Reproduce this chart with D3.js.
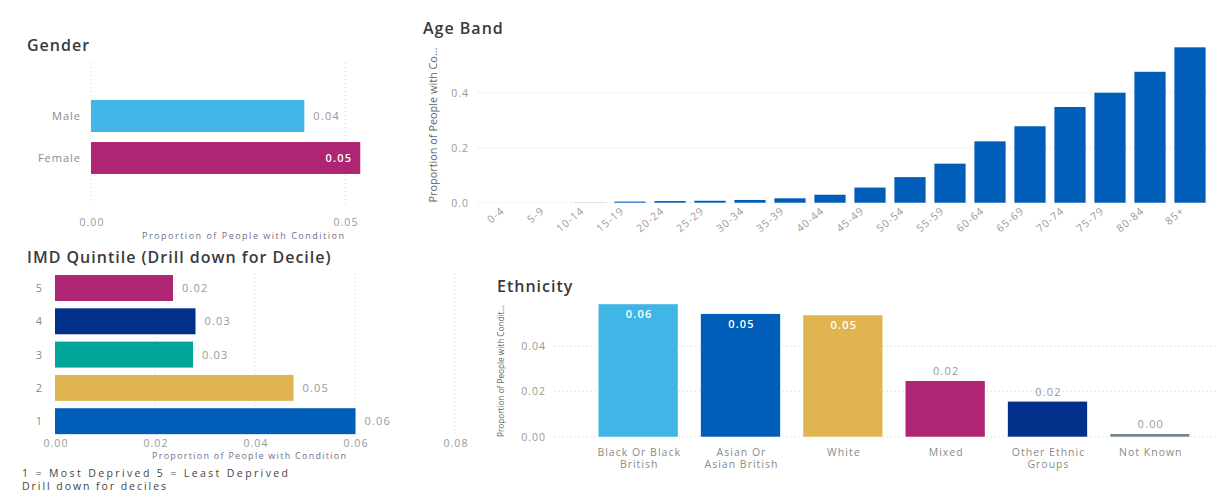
<!DOCTYPE html>
<html>
<head>
<meta charset="utf-8">
<script src="https://cdn.jsdelivr.net/npm/d3@7"></script>
<style>
  html, body { margin: 0; padding: 0; background: #fff; }
  svg { display: block; font-family: "Open Sans", "DejaVu Sans", sans-serif; }
  .title { fill: #3a3a3a; font-size: 16px; font-weight: 600; letter-spacing: 1px; }
  .tick-label { fill: #999; font-size: 10.5px; letter-spacing: 1px; }
  .cat-label { fill: #8a8a8a; font-size: 11px; letter-spacing: 1px; }
  .axis-title { fill: #6f6f88; font-size: 9px; }
  .val-out { fill: #999; font-size: 11px; letter-spacing: 1.2px; }
  .val-in { fill: #fff; font-size: 11px; font-weight: 600; letter-spacing: 1.2px; }
  .grid { stroke: #d6d6d6; stroke-width: 1; stroke-dasharray: 1 3; }
  .note { fill: #444; font-size: 10.5px; }
</style>
</head>
<body>
<svg id="chart" width="1230" height="501"></svg>
<script>
// ---- data ----
const genderCats = ["Male", "Female"];
const genderVals = [0.042, 0.053];
const genderTicks = [0, 0.05];

const ageCats = ["0-4", "5-9", "10-14", "15-19", "20-24", "25-29", "30-34", "35-39", "40-44",
  "45-49", "50-54", "55-59", "60-64", "65-69", "70-74", "75-79", "80-84", "85+"];
const ageVals = [0.0, 0.0, 0.0005, 0.004, 0.006, 0.007, 0.010, 0.016, 0.029,
  0.055, 0.093, 0.142, 0.223, 0.278, 0.348, 0.400, 0.476, 0.565];
const ageTicks = [0, 0.2, 0.4];

const imdCats = ["5", "4", "3", "2", "1"];
const imdVals = [0.0236, 0.0281, 0.0276, 0.0477, 0.0601];
const imdTicks = [0, 0.02, 0.04, 0.06, 0.08];

const ethCats = ["Black Or Black British", "Asian Or Asian British", "White", "Mixed",
  "Other Ethnic Groups", "Not Known"];
const ethLines = [["Black Or Black", "British"], ["Asian Or", "Asian British"], ["White"], ["Mixed"],
  ["Other Ethnic", "Groups"], ["Not Known"]];
const ethVals = [0.0585, 0.0542, 0.0536, 0.0246, 0.0155, 0.0012];
const ethTicks = [0, 0.02, 0.04];

// ---- palette ----
const cLight = "#41B6E6", cMagenta = "#AE2573", cNavy = "#00308A",
      cTeal = "#00A499", cGold = "#E0B54F", cBlue = "#005EB8", cGrey = "#768692";
const genderColors = [cLight, cMagenta];
const imdColors = [cMagenta, cNavy, cTeal, cGold, cBlue];
const ethColors = [cLight, cBlue, cGold, cMagenta, cNavy, cGrey];

const fmt = d3.format(".2f");
const svg = d3.select("#chart");

// ===== Gender (horizontal bars) =====
{
  const g = svg.append("g");
  const x = d3.scaleLinear().domain([0, 0.05]).range([91, 345]);
  const y = d3.scaleBand().domain(genderCats).range([95, 179]).paddingInner(0.24).paddingOuter(0.12);

  g.append("text").attr("class", "title").attr("x", 27).attr("y", 51).text("Gender");

  g.selectAll("line.gx").data(genderTicks).join("line").attr("class", "grid")
    .attr("x1", d => x(d)).attr("x2", d => x(d)).attr("y1", 63).attr("y2", 206);

  const rows = genderCats.map((c, i) => ({ c, v: genderVals[i], col: genderColors[i] }));
  g.selectAll("rect").data(rows).join("rect")
    .attr("x", x(0)).attr("y", d => y(d.c))
    .attr("width", d => x(d.v) - x(0)).attr("height", y.bandwidth())
    .attr("fill", d => d.col);

  g.selectAll("text.cat").data(genderCats).join("text").attr("class", "cat-label")
    .attr("x", 81).attr("y", d => y(d) + y.bandwidth() / 2 + 4)
    .attr("text-anchor", "end").text(d => d);

  g.selectAll("text.val").data(rows).join("text")
    .attr("class", d => x(d.v) > 350 ? "val-in" : "val-out")
    .attr("x", d => x(d.v) > 350 ? x(d.v) - 8 : x(d.v) + 9)
    .attr("text-anchor", d => x(d.v) > 350 ? "end" : "start")
    .attr("y", d => y(d.c) + y.bandwidth() / 2 + 4)
    .text(d => fmt(d.v));

  g.selectAll("text.tk").data(genderTicks).join("text").attr("class", "tick-label")
    .attr("x", d => x(d) + 1).attr("y", 226).attr("text-anchor", "middle").text(d => fmt(d));

  g.append("text").attr("class", "axis-title").attr("x", 243).attr("y", 239)
    .attr("text-anchor", "middle").attr("textLength", 202).attr("lengthAdjust", "spacing")
    .text("Proportion of People with Condition");
}

// ===== Age Band (vertical bars) =====
{
  const g = svg.append("g");
  const x = d3.scaleBand().domain(ageCats).range([490, 1210]).paddingInner(0.22).paddingOuter(0.11);
  const y = d3.scaleLinear().domain([0, 0.6]).range([202.7, 37.7]);

  g.append("text").attr("class", "title").attr("x", 423).attr("y", 34).text("Age Band");

  g.selectAll("line.gy").data(ageTicks).join("line").attr("class", "grid")
    .attr("x1", 478).attr("x2", 1212).attr("y1", d => y(d)).attr("y2", d => y(d));

  g.selectAll("text.tk").data(ageTicks).join("text").attr("class", "tick-label")
    .attr("x", 469).attr("y", d => y(d) + 4).attr("text-anchor", "end").text(d => d3.format(".1f")(d));

  g.append("text")
    .attr("transform", "translate(437,125) rotate(-90)")
    .attr("text-anchor", "middle").style("font-size", "11.5px").style("fill", "#666")
    .attr("textLength", 155).attr("lengthAdjust", "spacingAndGlyphs")
    .text("Proportion of People with Co...");

  const rows = ageCats.map((c, i) => ({ c, v: ageVals[i] }));
  g.selectAll("rect").data(rows).join("rect")
    .attr("x", d => x(d.c)).attr("width", x.bandwidth())
    .attr("y", d => y(d.v)).attr("height", d => y(0) - y(d.v))
    .attr("fill", cBlue);

  g.selectAll("text.cat").data(ageCats).join("text").attr("class", "tick-label")
    .attr("text-anchor", "end")
    .attr("transform", d => `translate(${x(d) + x.bandwidth() / 2 - 5},${212}) rotate(-40)`)
    .text(d => d);
}

// ===== IMD Quintile (horizontal bars) =====
{
  const g = svg.append("g");
  const x = d3.scaleLinear().domain([0, 0.08]).range([55, 455]);
  const y = d3.scaleBand().domain(imdCats).range([271.7, 437.5]).paddingInner(0.22).paddingOuter(0.1);

  g.append("text").attr("class", "title").attr("x", 27).attr("y", 263).text("IMD Quintile (Drill down for Decile)");

  g.selectAll("line.gx").data(imdTicks.slice(1)).join("line").attr("class", "grid")
    .attr("x1", d => x(d)).attr("x2", d => x(d)).attr("y1", 273).attr("y2", 437);

  const rows = imdCats.map((c, i) => ({ c, v: imdVals[i], col: imdColors[i] }));
  g.selectAll("rect").data(rows).join("rect")
    .attr("x", x(0)).attr("y", d => y(d.c))
    .attr("width", d => x(d.v) - x(0)).attr("height", y.bandwidth())
    .attr("fill", d => d.col);

  g.selectAll("text.cat").data(imdCats).join("text").attr("class", "cat-label")
    .attr("x", 43).attr("y", d => y(d) + y.bandwidth() / 2 + 4)
    .attr("text-anchor", "end").text(d => d);

  g.selectAll("text.val").data(rows).join("text").attr("class", "val-out")
    .attr("x", d => x(d.v) + 9).attr("y", d => y(d.c) + y.bandwidth() / 2 + 4)
    .text(d => fmt(d.v));

  g.selectAll("text.tk").data(imdTicks).join("text").attr("class", "tick-label")
    .attr("x", d => x(d) + 1).attr("y", 447).attr("text-anchor", "middle").text(d => fmt(d));

  g.append("text").attr("class", "axis-title").attr("x", 249).attr("y", 459)
    .attr("text-anchor", "middle").attr("textLength", 194).attr("lengthAdjust", "spacing")
    .text("Proportion of People with Condition");

  g.append("text").attr("class", "note").attr("x", 22).attr("y", 477)
    .attr("textLength", 266).attr("lengthAdjust", "spacing").text("1 = Most Deprived 5 = Least Deprived");
  g.append("text").attr("class", "note").attr("x", 22).attr("y", 490)
    .attr("textLength", 144).attr("lengthAdjust", "spacing").text("Drill down for deciles");
}

// ===== Ethnicity (vertical bars) =====
{
  const g = svg.append("g");
  const x = d3.scaleBand().domain(ethCats).range([587, 1201]).paddingInner(0.225).paddingOuter(0.1125);
  const y = d3.scaleLinear().domain([0, 0.06]).range([436.7, 300.8]);

  g.append("text").attr("class", "title").attr("x", 497).attr("y", 292).text("Ethnicity");

  g.selectAll("line.gy").data(ethTicks).join("line").attr("class", "grid")
    .attr("x1", 555).attr("x2", 1216).attr("y1", d => y(d)).attr("y2", d => y(d));

  g.selectAll("text.tk").data(ethTicks).join("text").attr("class", "tick-label")
    .attr("x", 546).attr("y", d => y(d) + 4).attr("text-anchor", "end").text(d => fmt(d));

  g.append("text")
    .attr("transform", "translate(504,371) rotate(-90)")
    .attr("text-anchor", "middle").style("fill", "#666").style("font-size", "9px")
    .attr("textLength", 132).attr("lengthAdjust", "spacingAndGlyphs")
    .text("Proportion of People with Condit...");

  const rows = ethCats.map((c, i) => ({ c, v: ethVals[i], col: ethColors[i], lines: ethLines[i] }));
  g.selectAll("rect").data(rows).join("rect")
    .attr("x", d => x(d.c)).attr("width", x.bandwidth())
    .attr("y", d => y(d.v)).attr("height", d => y(0) - y(d.v))
    .attr("fill", d => d.col);

  const inside = d => y(0) - y(d.v) > 60;
  g.selectAll("text.val").data(rows).join("text")
    .attr("class", d => inside(d) ? "val-in" : "val-out")
    .attr("x", d => x(d.c) + x.bandwidth() / 2 + 1)
    .attr("y", d => inside(d) ? y(d.v) + 14 : y(d.v) - 6)
    .attr("text-anchor", "middle")
    .text(d => fmt(d.v));

  const labels = g.selectAll("text.cat").data(rows).join("text").attr("class", "cat-label")
    .attr("text-anchor", "middle").style("font-size", "10.5px");
  labels.selectAll("tspan").data(d => d.lines.map(l => ({ l, cx: x(d.c) + x.bandwidth() / 2 + 1 })))
    .join("tspan").attr("x", d => d.cx).attr("y", (d, i) => 456 + i * 12).text(d => d.l);
}
</script>
</body>
</html>
